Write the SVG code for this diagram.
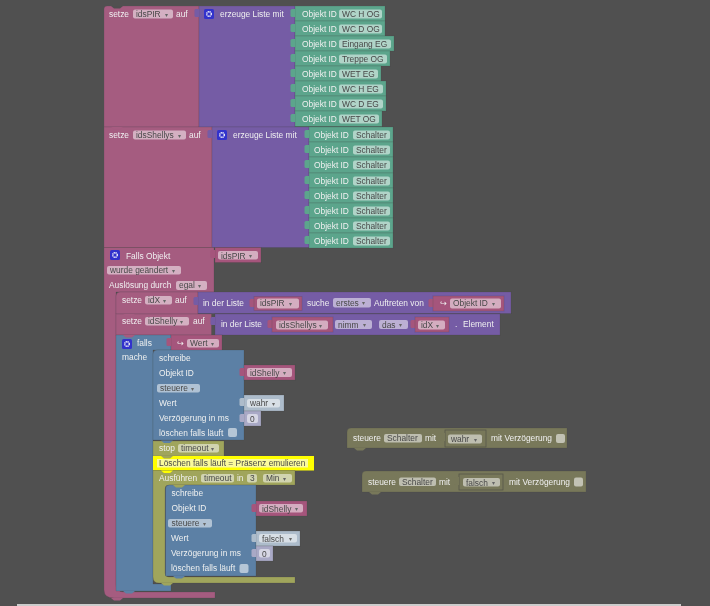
<svg xmlns="http://www.w3.org/2000/svg" xmlns:xlink="http://www.w3.org/1999/xlink" width="710" height="606" viewBox="0 0 710 606">
<style>
text{font-family:"Liberation Sans",Arial,sans-serif;font-size:8.4px;fill:#f0f0f0}
.f{fill:#484848}.a{font-size:6px;fill:#666}
.s{stroke-width:.7;stroke-opacity:.25;stroke:#3c3c3c}
.pk{fill:#a55b80}.pu{fill:#745ba5}.gr{fill:#5ba58c}.bl{fill:#5b80a5}.ol{fill:#a0a55b}.dol{fill:#78785a}
.dk{fill:#a5557b}.w{fill:#adbccb}.n{fill:#a9a9c6}
.fd{fill:#fff;fill-opacity:.52}
.cb{fill:#fff;fill-opacity:.55}
.g{fill:#3333cc}.gi{fill:none;stroke:#fff;stroke-width:1.3;stroke-dasharray:1.2 .5}
</style>
<defs>
<filter id="soft" x="0" y="0" width="100%" height="100%"><feGaussianBlur stdDeviation="0.4"/></filter>
<path id="tab" d="M0,0h-3q-1.500,0 -1.500,1.500v5q0,1.500 1.500,1.500h3z"/>
<path id="nub" d="M0,0l3,2.500h6l3,-2.500z"/>
<g id="gear"><rect class="g" width="10" height="10" rx="1.500"/><circle class="gi" cx="5" cy="5" r="2.300"/></g>
<rect id="chk" class="cb" width="9" height="9" rx="2"/>
</defs>
<rect width="710" height="606" fill="#505050"/>
<rect x="17" y="604" width="664" height="2" fill="#cccccc"/>
<g filter="url(#soft)">
<g id="connectors"></g>

<g id="set-idsPIR">
<path class="pk s" d="M107,6h92v121h-95v-118q0,-3 3,-3z"/>
<path d="M111,6l3,2.500h6l3,-2.500z" fill="#505050"/>
<text x="109" y="17">setze</text>
<rect class="fd" x="133" y="9.500" width="40" height="9" rx="2"/><text class="f" x="136" y="17">idsPIR</text><text class="a" x="165" y="16.500">▾</text>
<text x="176" y="17">auf</text>
</g>
<g id="list-idsPIR">
<rect class="pu s" x="199" y="6" width="96" height="121"/>
<use href="#tab" class="pu" x="199" y="9"/>
<use href="#gear" x="204" y="9"/>
<text x="220" y="17">erzeuge Liste mit</text>
</g>
<g id="pir-rows">
<g id="pir1"><rect class="gr s" x="295" y="6" width="90" height="15"/><use href="#tab" class="gr" x="295" y="9"/><text x="302" y="17">Objekt ID</text><rect class="fd" x="339" y="9.500" width="43" height="9" rx="2"/><text class="f" x="342" y="17">WC H OG</text></g>
<g id="pir2"><rect class="gr s" x="295" y="21" width="90" height="15"/><use href="#tab" class="gr" x="295" y="24"/><text x="302" y="32">Objekt ID</text><rect class="fd" x="339" y="24.500" width="43" height="9" rx="2"/><text class="f" x="342" y="32">WC D OG</text></g>
<g id="pir3"><rect class="gr s" x="295" y="36" width="99" height="15"/><use href="#tab" class="gr" x="295" y="39"/><text x="302" y="47">Objekt ID</text><rect class="fd" x="339" y="39.500" width="52" height="9" rx="2"/><text class="f" x="342" y="47">Eingang EG</text></g>
<g id="pir4"><rect class="gr s" x="295" y="51" width="95" height="15"/><use href="#tab" class="gr" x="295" y="54"/><text x="302" y="62">Objekt ID</text><rect class="fd" x="339" y="54.500" width="48" height="9" rx="2"/><text class="f" x="342" y="62">Treppe OG</text></g>
<g id="pir5"><rect class="gr s" x="295" y="66" width="86" height="15"/><use href="#tab" class="gr" x="295" y="69"/><text x="302" y="77">Objekt ID</text><rect class="fd" x="339" y="69.500" width="39" height="9" rx="2"/><text class="f" x="342" y="77">WET EG</text></g>
<g id="pir6"><rect class="gr s" x="295" y="81" width="91" height="15"/><use href="#tab" class="gr" x="295" y="84"/><text x="302" y="92">Objekt ID</text><rect class="fd" x="339" y="84.500" width="44" height="9" rx="2"/><text class="f" x="342" y="92">WC H EG</text></g>
<g id="pir7"><rect class="gr s" x="295" y="96" width="91" height="15"/><use href="#tab" class="gr" x="295" y="99"/><text x="302" y="107">Objekt ID</text><rect class="fd" x="339" y="99.500" width="44" height="9" rx="2"/><text class="f" x="342" y="107">WC D EG</text></g>
<g id="pir8"><rect class="gr s" x="295" y="111" width="87" height="15.500"/><use href="#tab" class="gr" x="295" y="114"/><text x="302" y="122">Objekt ID</text><rect class="fd" x="339" y="114.500" width="40" height="9" rx="2"/><text class="f" x="342" y="122">WET OG</text></g>
</g>

<g id="set-idsShellys">
<rect class="pk s" x="104" y="127" width="108" height="120.500"/>
<use href="#nub" class="pk" x="111" y="127"/>
<text x="109" y="138">setze</text>
<rect class="fd" x="133" y="130.500" width="53" height="9" rx="2"/><text class="f" x="136" y="138">idsShellys</text><text class="a" x="178" y="137.500">▾</text>
<text x="189" y="138">auf</text>
</g>
<g id="list-idsShellys">
<rect class="pu s" x="212" y="127" width="97" height="120.500"/>
<use href="#tab" class="pu" x="212" y="130"/>
<use href="#gear" x="217" y="130"/>
<text x="233" y="138">erzeuge Liste mit</text>
</g>
<g id="shelly-rows">
<g id="sh1"><rect class="gr s" x="309" y="127" width="84" height="15"/><use href="#tab" class="gr" x="309" y="130"/><text x="314" y="138">Objekt ID</text><rect class="fd" x="353" y="130.500" width="37" height="9" rx="2"/><text class="f" x="356" y="138">Schalter</text></g>
<g id="sh2"><rect class="gr s" x="309" y="142" width="84" height="15"/><use href="#tab" class="gr" x="309" y="145"/><text x="314" y="153">Objekt ID</text><rect class="fd" x="353" y="145.500" width="37" height="9" rx="2"/><text class="f" x="356" y="153">Schalter</text></g>
<g id="sh3"><rect class="gr s" x="309" y="157" width="84" height="16"/><use href="#tab" class="gr" x="309" y="160"/><text x="314" y="168">Objekt ID</text><rect class="fd" x="353" y="160.500" width="37" height="9" rx="2"/><text class="f" x="356" y="168">Schalter</text></g>
<g id="sh4"><rect class="gr s" x="309" y="173" width="84" height="15"/><use href="#tab" class="gr" x="309" y="176"/><text x="314" y="184">Objekt ID</text><rect class="fd" x="353" y="176.500" width="37" height="9" rx="2"/><text class="f" x="356" y="184">Schalter</text></g>
<g id="sh5"><rect class="gr s" x="309" y="188" width="84" height="15"/><use href="#tab" class="gr" x="309" y="191"/><text x="314" y="199">Objekt ID</text><rect class="fd" x="353" y="191.500" width="37" height="9" rx="2"/><text class="f" x="356" y="199">Schalter</text></g>
<g id="sh6"><rect class="gr s" x="309" y="203" width="84" height="15"/><use href="#tab" class="gr" x="309" y="206"/><text x="314" y="214">Objekt ID</text><rect class="fd" x="353" y="206.500" width="37" height="9" rx="2"/><text class="f" x="356" y="214">Schalter</text></g>
<g id="sh7"><rect class="gr s" x="309" y="218" width="84" height="15"/><use href="#tab" class="gr" x="309" y="221"/><text x="314" y="229">Objekt ID</text><rect class="fd" x="353" y="221.500" width="37" height="9" rx="2"/><text class="f" x="356" y="229">Schalter</text></g>
<g id="sh8"><rect class="gr s" x="309" y="233" width="84" height="15"/><use href="#tab" class="gr" x="309" y="236"/><text x="314" y="244">Objekt ID</text><rect class="fd" x="353" y="236.500" width="37" height="9" rx="2"/><text class="f" x="356" y="244">Schalter</text></g>
</g>

<g id="trigger">
<path class="pk s" d="M104,247.500h110v44.500h-98v292q0,8 8,8h91v6h-101q-10,0 -10,-8z"/>
<use href="#nub" class="pk" x="111" y="598"/>
<use href="#gear" x="110" y="250"/>
<text x="126" y="258.500">Falls Objekt</text>
<rect class="fd" x="107" y="266" width="74" height="8.500" rx="2"/><text class="f" x="110" y="273">wurde geändert</text><text class="a" x="172" y="272.500">▾</text>
<text x="109" y="288">Auslösung durch</text>
<rect class="fd" x="176" y="281" width="31" height="9" rx="2"/><text class="f" x="179" y="288">egal</text><text class="a" x="198" y="287.500">▾</text>
</g>
<g id="trigger-value">
<rect class="dk s" x="215" y="247.500" width="46" height="15"/>
<use href="#tab" class="dk" x="215" y="250"/>
<rect class="fd" x="218" y="251" width="40" height="8.500" rx="2"/><text class="f" x="221" y="258.500">idsPIR</text><text class="a" x="249" y="258">▾</text>
</g>

<g id="set-idX">
<path class="pk s" d="M120,292h78v22h-82v-18q0,-4 4,-4z"/>
<text x="122" y="303">setze</text>
<rect class="fd" x="145" y="296" width="27" height="8.500" rx="2"/><text class="f" x="148" y="303">idX</text><text class="a" x="163" y="302.500">▾</text>
<text x="175" y="303">auf</text>
</g>
<g id="index-of">
<rect class="pu s" x="198" y="292" width="313" height="21.500"/>
<use href="#tab" class="pu" x="198" y="297"/>
<text x="203" y="305.500">in der Liste</text>
<use href="#tab" class="dk" x="254" y="299"/>
<rect class="dk s" x="254" y="296.500" width="48" height="14"/>
<rect class="fd" x="257" y="298.500" width="42" height="10" rx="2"/><text class="f" x="260" y="306">idsPIR</text><text class="a" x="289" y="305.500">▾</text>
<text x="307" y="305.500">suche</text>
<rect class="fd" x="333" y="298" width="38" height="9.500" rx="2"/><text class="f" x="336" y="305.500">erstes</text><text class="a" x="362" y="305">▾</text>
<text x="374" y="305.500">Auftreten von</text>
<use href="#tab" class="dk" x="433" y="299"/>
<rect class="dk s" x="433" y="296" width="71" height="15"/>
<text x="440" y="306">↪</text>
<rect class="fd" x="450" y="298.500" width="51" height="10" rx="2"/><text class="f" x="453" y="306">Objekt ID</text><text class="a" x="492" y="305.500">▾</text>
</g>

<g id="set-idShelly">
<rect class="pk s" x="116" y="314" width="95.500" height="21"/>
<use href="#nub" class="pk" x="123" y="314"/>
<text x="122" y="324">setze</text>
<rect class="fd" x="145" y="317" width="44" height="8.500" rx="2"/><text class="f" x="148" y="324">idShelly</text><text class="a" x="180" y="323.500">▾</text>
<text x="193" y="324">auf</text>
</g>
<g id="get-element">
<rect class="pu s" x="215" y="314" width="285" height="21"/>
<use href="#tab" class="pu" x="215" y="317"/>
<text x="221" y="327">in der Liste</text>
<use href="#tab" class="dk" x="272" y="320"/>
<rect class="dk s" x="272" y="317" width="61" height="15"/>
<rect class="fd" x="276" y="320.500" width="52" height="9" rx="2"/><text class="f" x="279" y="328">idsShellys</text><text class="a" x="319" y="327.500">▾</text>
<rect class="fd" x="335" y="320" width="37" height="9" rx="2"/><text class="f" x="338" y="327.500">nimm</text><text class="a" x="363" y="327">▾</text>
<rect class="fd" x="379" y="320" width="29" height="9" rx="2"/><text class="f" x="382" y="327.500">das</text><text class="a" x="399" y="327">▾</text>
<use href="#tab" class="dk" x="415" y="320"/>
<rect class="dk s" x="415" y="317" width="34" height="15"/>
<rect class="fd" x="418" y="320.500" width="27" height="9" rx="2"/><text class="f" x="421" y="328">idX</text><text class="a" x="436" y="327.500">▾</text>
<text x="455" y="327">.</text><text x="463" y="327">Element</text>
</g>

<g id="falls">
<path class="bl s" d="M116,335h55v15h-18v234h18v7h-55z"/>
<use href="#nub" class="pk" x="123" y="335"/>
<use href="#nub" class="bl" x="123" y="591"/>
<use href="#gear" x="122" y="339"/>
<text x="137" y="345.500">falls</text>
<text x="122" y="359.500">mache</text>
</g>
<g id="falls-value">
<rect class="dk s" x="171" y="335" width="51" height="16"/>
<use href="#tab" class="dk" x="171" y="338"/>
<text x="177" y="346">↪</text>
<rect class="fd" x="187" y="339" width="32" height="8.500" rx="2"/><text class="f" x="190" y="346">Wert</text><text class="a" x="211" y="345.500">▾</text>
</g>

<g id="schreibe-1">
<path class="bl s" d="M157,350h87v90h-91v-86q0,-4 4,-4z"/>
<text x="159" y="361">schreibe</text>
<text x="159" y="376">Objekt ID</text>
<rect class="fd" x="157" y="384" width="43" height="8.500" rx="2"/><text class="f" x="160" y="391">steuere</text><text class="a" x="191" y="390.500">▾</text>
<text x="159" y="406">Wert</text>
<text x="159" y="421">Verzögerung in ms</text>
<text x="159" y="436">löschen falls läuft</text>
<use href="#chk" x="228" y="428"/>
</g>
<g id="v-idShelly-1">
<rect class="dk s" x="244" y="365" width="51" height="15"/>
<use href="#tab" class="dk" x="244" y="368"/>
<rect class="fd" x="247" y="368" width="45" height="9" rx="2"/><text class="f" x="250" y="375.500">idShelly</text><text class="a" x="283" y="375">▾</text>
</g>
<g id="v-wahr">
<rect class="w s" x="244" y="395" width="40" height="16"/>
<use href="#tab" class="w" x="244" y="398"/>
<rect class="fd" x="247" y="399" width="33" height="8.500" rx="2"/><text class="f" x="250" y="406">wahr</text><text class="a" x="272" y="405.500">▾</text>
</g>
<g id="v-0-1">
<rect class="n s" x="244" y="411" width="17" height="15"/>
<use href="#tab" class="n" x="244" y="414"/>
<rect class="fd" x="247" y="414" width="11" height="9" rx="2"/><text class="f" x="250" y="421.500">0</text>
</g>

<g id="stop">
<rect class="ol s" x="153" y="441" width="71" height="15"/>
<use href="#nub" class="bl" x="161" y="440.500"/>
<text x="159" y="451">stop</text>
<rect class="fd" x="178" y="444" width="41" height="8.500" rx="2"/><text class="f" x="181" y="451">timeout</text><text class="a" x="211" y="450.500">▾</text>
</g>
<g id="comment">
<rect x="153" y="456" width="161" height="14.500" fill="#ffff00"/>
<use href="#nub" class="ol" x="161" y="456"/>
<rect x="157" y="459" width="151" height="8.500" fill="#fafa9c"/>
<text class="f" x="159" y="466">Löschen falls läuft = Präsenz emulieren</text>
</g>
<g id="ausfuehren">
<path class="ol s" d="M153,470.500h142v14.500h-126q-4,0 -4,4v84q0,4 4,4h126v6h-136q-6,0 -6,-6z"/>
<path d="M161,470.500l3,2.500h6l3,-2.500z" fill="#ffff00"/>
<use href="#nub" class="ol" x="161" y="583"/>
<text x="159" y="481">Ausführen</text>
<rect class="fd" x="201" y="474" width="33" height="8.500" rx="2"/><text class="f" x="204" y="481">timeout</text>
<text x="237" y="481">in</text>
<rect class="fd" x="247" y="474" width="10" height="8.500" rx="2"/><text class="f" x="250" y="481">3</text>
<rect class="fd" x="263" y="474" width="29" height="8.500" rx="2"/><text class="f" x="266" y="481">Min</text><text class="a" x="283" y="480.500">▾</text>
</g>
<g id="schreibe-2">
<path class="bl s" d="M169.500,485h86.500v91h-90.500v-87q0,-4 4,-4z"/>
<use href="#nub" class="ol" x="173" y="485"/>
<use href="#nub" class="bl" x="173" y="576"/>
<text x="171.500" y="496">schreibe</text>
<text x="171.500" y="511">Objekt ID</text>
<rect class="fd" x="168" y="519" width="44" height="8.500" rx="2"/><text class="f" x="171.500" y="526">steuere</text><text class="a" x="203" y="525.500">▾</text>
<text x="171" y="541">Wert</text>
<text x="171" y="556">Verzögerung in ms</text>
<text x="171" y="571">löschen falls läuft</text>
<use href="#chk" x="239.500" y="564"/>
</g>
<g id="v-idShelly-2">
<rect class="dk s" x="256" y="501" width="51" height="15"/>
<use href="#tab" class="dk" x="256" y="504"/>
<rect class="fd" x="259" y="504" width="44" height="8.500" rx="2"/><text class="f" x="262" y="511.500">idShelly</text><text class="a" x="295" y="511">▾</text>
</g>
<g id="v-falsch">
<rect class="w s" x="256" y="531" width="44" height="15"/>
<use href="#tab" class="w" x="256" y="534"/>
<rect class="fd" x="259" y="534" width="38" height="8.500" rx="2"/><text class="f" x="262" y="541.500">falsch</text><text class="a" x="289" y="541">▾</text>
</g>
<g id="v-0-2">
<rect class="n s" x="256" y="546" width="17" height="15"/>
<use href="#tab" class="n" x="256" y="549"/>
<rect class="fd" x="259" y="549" width="11" height="8.500" rx="2"/><text class="f" x="262" y="556.500">0</text>
</g>

<g id="steuere-wahr">
<path class="dol s" d="M351,428h216v20h-220v-16q0,-4 4,-4z"/>
<use href="#nub" class="dol" x="354" y="448"/>
<text x="353" y="441">steuere</text>
<rect class="fd" x="384" y="434" width="38" height="8.500" rx="2"/><text class="f" x="387" y="441">Schalter</text>
<text x="425" y="441">mit</text>
<rect class="dol s" style="stroke-opacity:.6" x="445" y="430" width="41" height="17"/>
<use href="#tab" class="dol" x="445" y="433"/>
<rect class="fd" x="448" y="434.500" width="34" height="9" rx="2"/><text class="f" x="451" y="442">wahr</text><text class="a" x="474" y="441.500">▾</text>
<text x="491" y="441">mit Verzögerung</text>
<use href="#chk" x="556" y="434"/>
</g>
<g id="steuere-falsch">
<path class="dol s" d="M366,471h220v21h-224v-17q0,-4 4,-4z"/>
<use href="#nub" class="dol" x="369" y="492"/>
<text x="368" y="485">steuere</text>
<rect class="fd" x="399" y="477.500" width="37" height="8.500" rx="2"/><text class="f" x="402" y="485">Schalter</text>
<text x="439" y="485">mit</text>
<rect class="dol s" style="stroke-opacity:.6" x="459" y="474" width="44" height="16"/>
<use href="#tab" class="dol" x="459" y="477"/>
<rect class="fd" x="463" y="478" width="37" height="8.500" rx="2"/><text class="f" x="466" y="485.500">falsch</text><text class="a" x="492" y="485">▾</text>
<text x="509" y="485">mit Verzögerung</text>
<use href="#chk" x="574" y="477.500"/>
</g>
</g>
</svg>
